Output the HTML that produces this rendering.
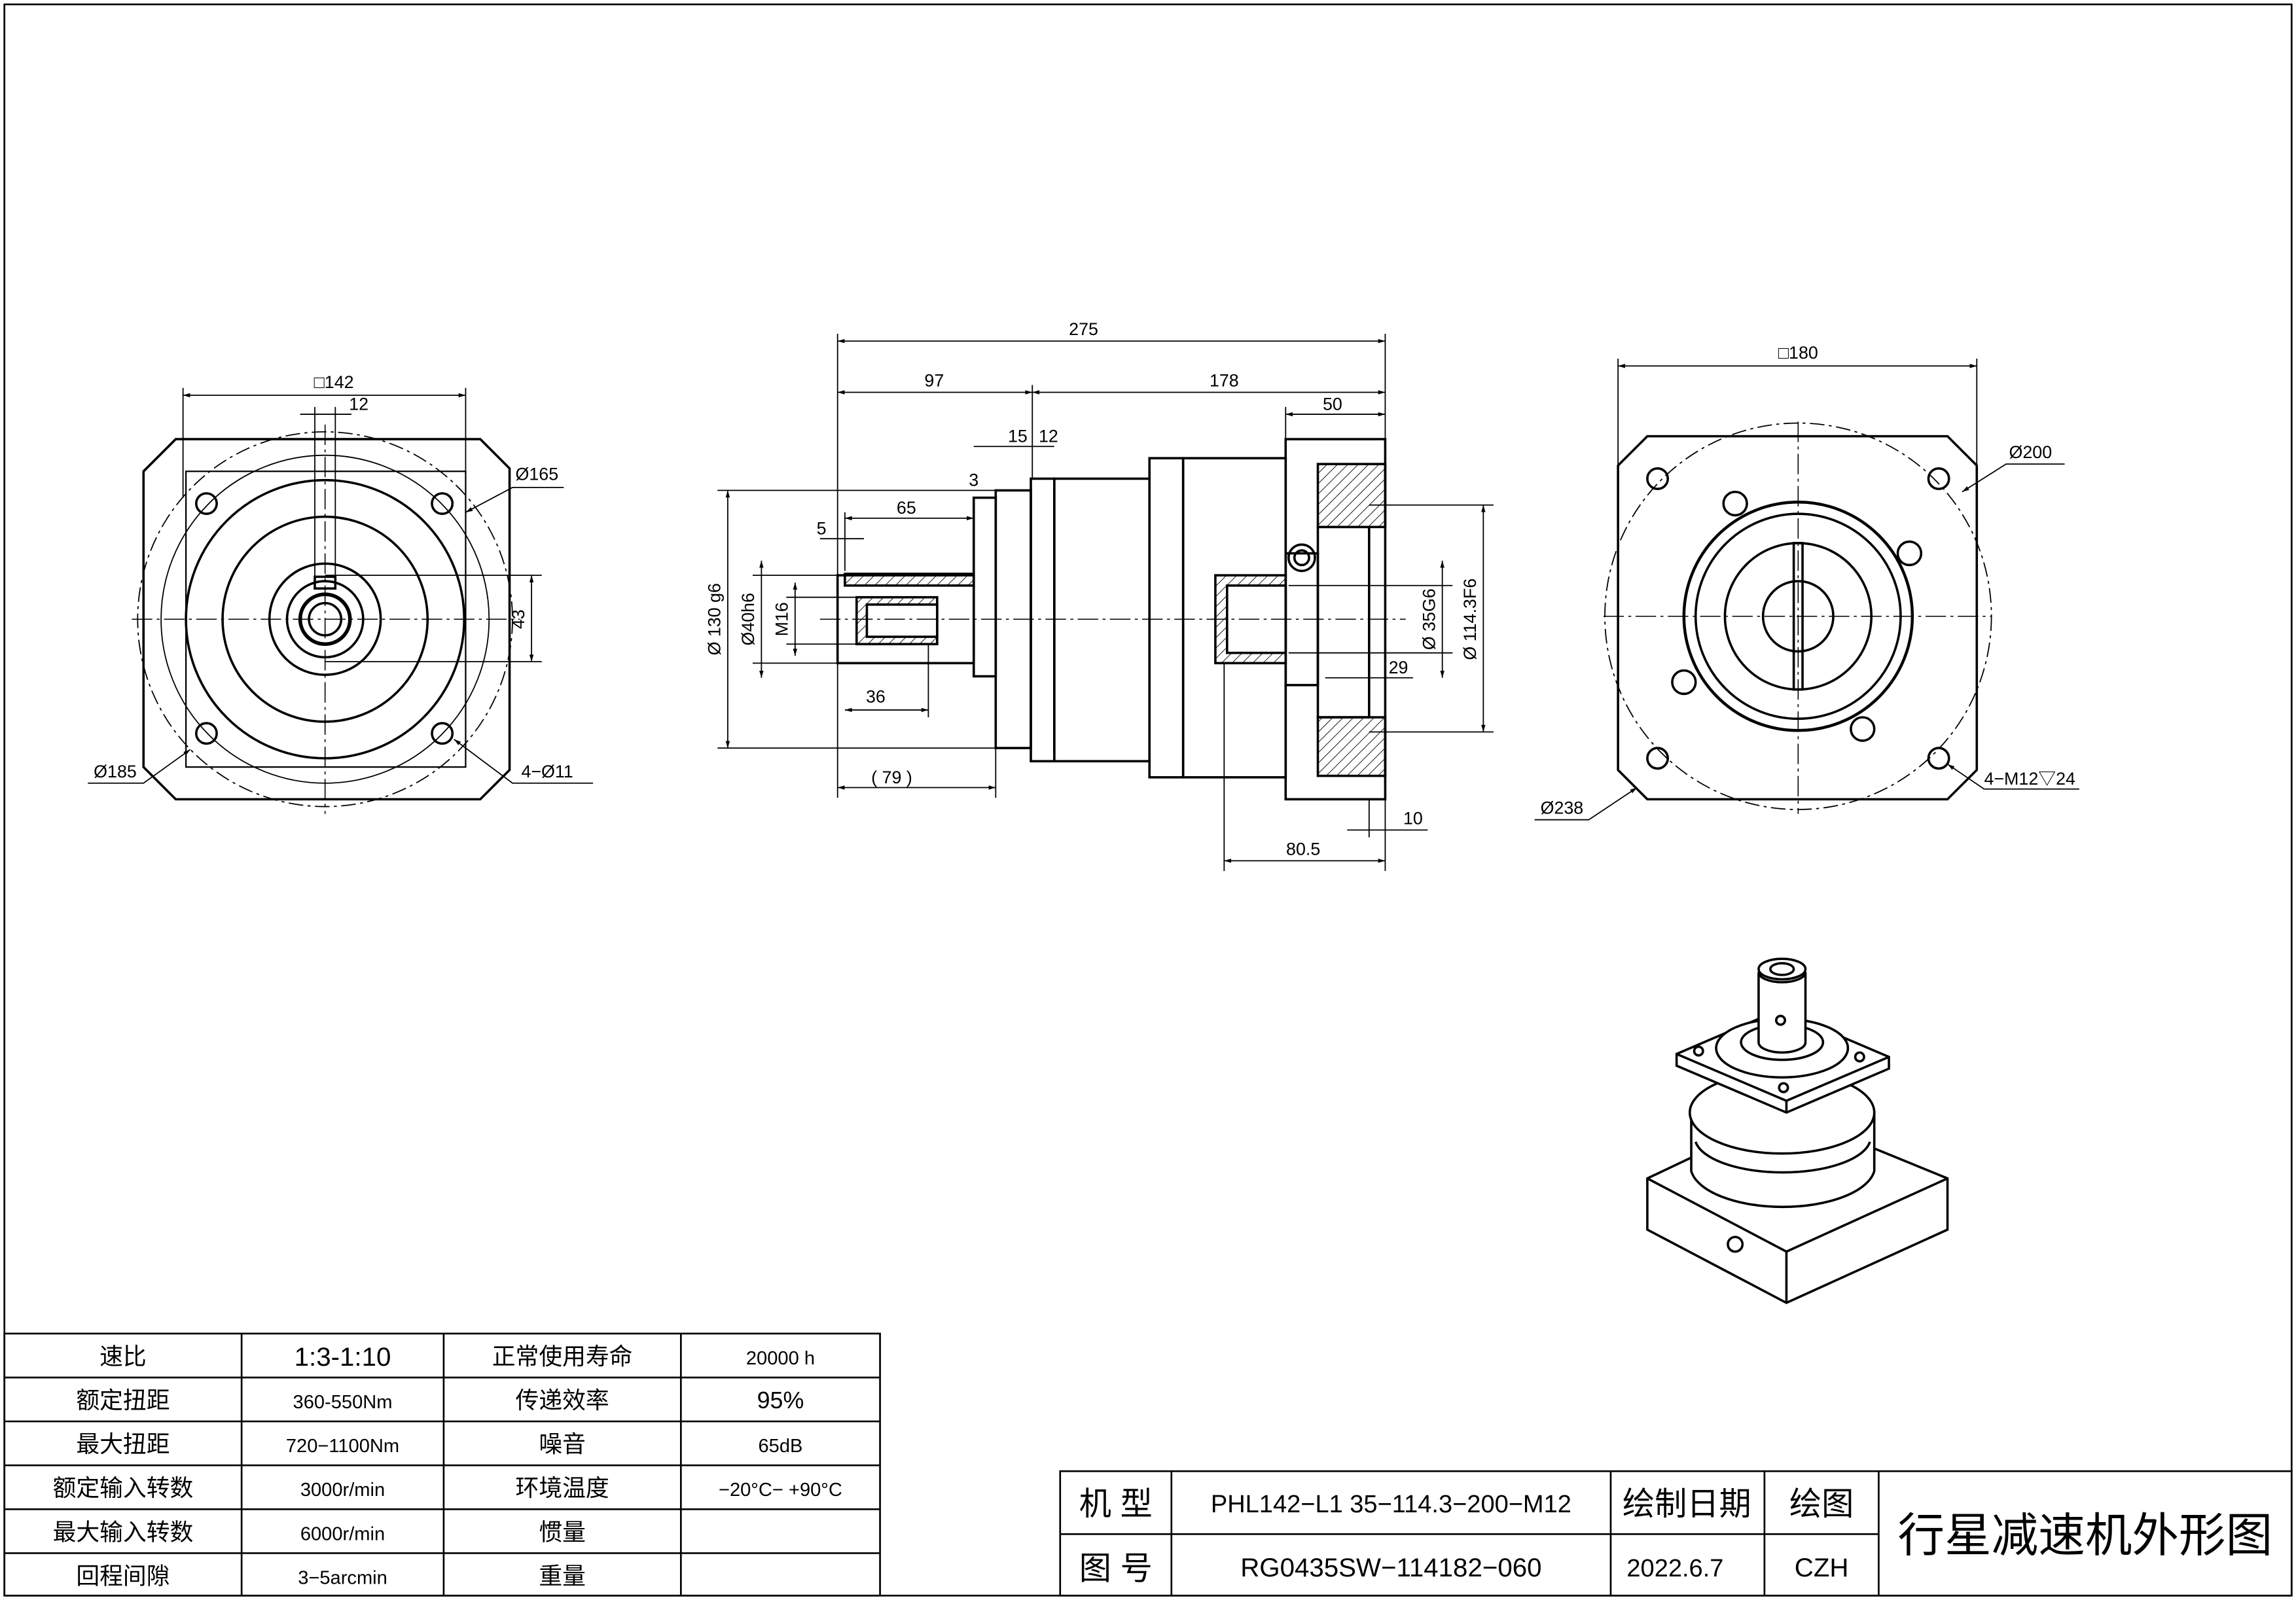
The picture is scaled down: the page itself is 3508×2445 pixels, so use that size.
<!DOCTYPE html>
<html><head><meta charset="utf-8"><style>
html,body{margin:0;padding:0;background:#fff;}
svg{display:block;}
text{font-family:"Liberation Sans","Noto Sans CJK SC",sans-serif;fill:#000;}
.t{font-size:12px;}
.c{font-size:16px;}
</style></head><body>
<svg width="3508" height="2445" viewBox="0 0 1568 1093" preserveAspectRatio="none" xmlns="http://www.w3.org/2000/svg">
<defs>
<pattern id="h" width="5" height="5" patternUnits="userSpaceOnUse" patternTransform="rotate(45)"><line x1="0" y1="0" x2="0" y2="5" stroke="#000" stroke-width="0.8"/></pattern>
<marker id="a" viewBox="0 0 10 10" refX="10" refY="5" markerWidth="8" markerHeight="6" orient="auto-start-reverse"><path d="M0,2 L10,5 L0,8 z" fill="#000"/></marker>
</defs>
<rect x="0" y="0" width="1568" height="1093" fill="#fff"/>
<rect x="3" y="3" width="1562" height="1087" fill="none" stroke="#000" stroke-width="1.2"/>

<g fill="none" stroke="#000" stroke-width="1.6">
<!-- LEFT VIEW -->
<path d="M120,300 L328,300 L348,320 L348,526 L328,546 L120,546 L98,524 L98,322 Z"/>
<path d="M127,322 L318,322 L318,524 L127,524 Z" stroke-width="1"/>
<circle cx="222" cy="423" r="112" stroke-width="0.8"/>
<circle cx="222" cy="423" r="128" stroke-width="0.8" stroke-dasharray="10,3,2,3"/>
<circle cx="222" cy="423" r="95"/>
<circle cx="222" cy="423" r="70"/>
<circle cx="222" cy="423" r="38"/>
<circle cx="222" cy="423" r="26"/>
<circle cx="222" cy="423" r="17" stroke-width="2.5"/>
<circle cx="222" cy="423" r="11"/>
<rect x="215" y="394" width="14" height="8"/>
<circle cx="141" cy="344" r="7"/><circle cx="302" cy="344" r="7"/>
<circle cx="141" cy="501" r="7"/><circle cx="302" cy="501" r="7"/>
<!-- RIGHT VIEW -->
<path d="M1125,298 L1330,298 L1350,318 L1350,526 L1330,546 L1125,546 L1105,526 L1105,318 Z"/>
<circle cx="1228" cy="421" r="132" stroke-width="0.8" stroke-dasharray="10,3,2,3"/>
<circle cx="1228" cy="421" r="78" stroke-width="2"/>
<circle cx="1228" cy="421" r="70"/>
<circle cx="1228" cy="421" r="50"/>
<circle cx="1228" cy="421" r="24"/>
<rect x="1225" y="371" width="6" height="100"/>
<circle cx="1132" cy="327" r="7"/><circle cx="1324" cy="327" r="7"/>
<circle cx="1132" cy="518" r="7"/><circle cx="1324" cy="518" r="7"/>
<circle cx="1185" cy="344" r="8"/><circle cx="1304" cy="378" r="8"/>
<circle cx="1150" cy="466" r="8"/><circle cx="1272" cy="498" r="8"/>
<!-- MIDDLE VIEW -->
<rect x="572" y="393" width="93" height="60"/>
<rect x="577" y="392" width="88" height="8" fill="url(#h)"/>
<rect x="585" y="408" width="55" height="32" fill="url(#h)"/>
<rect x="592" y="413" width="48" height="22" fill="#fff"/>
<rect x="665" y="340" width="15" height="122"/>
<rect x="680" y="335" width="24" height="176"/>
<rect x="704" y="327" width="16" height="193"/>
<rect x="720" y="327" width="65" height="193"/>
<rect x="785" y="313" width="23" height="218"/>
<rect x="808" y="313" width="70" height="218"/>
<rect x="878" y="300" width="68" height="246"/>
<rect x="900" y="317" width="46" height="43" fill="url(#h)"/>
<rect x="900" y="490" width="46" height="40" fill="url(#h)"/>
<rect x="830" y="393" width="48" height="60" fill="url(#h)"/>
<rect x="838" y="400" width="40" height="46" fill="#fff"/>
<rect x="878" y="378" width="22" height="90"/>
<rect x="900" y="360" width="35" height="130"/>
<circle cx="889" cy="381" r="9"/><circle cx="889" cy="381" r="5"/>
<!-- ISO -->
<path d="M1125,805 L1220,760 L1330,805 L1330,840 L1220,890 L1125,840 Z" fill="#fff"/>
<path d="M1125,805 L1220,855 L1330,805 M1220,855 L1220,890"/>
<path d="M1155,760 L1155,800 A63,28 0 0 0 1280,800 L1280,760 Z" fill="#fff"/>
<ellipse cx="1217" cy="760" rx="63" ry="28" fill="#fff"/>
<path d="M1158,780 A60,24 0 0 0 1277,780"/>
<path d="M1145,720 L1145,728 L1220,760 L1290,730 L1290,722 L1215,690 Z" fill="#fff"/>
<path d="M1145,720 L1220,752 L1290,722 M1220,752 L1220,760"/>
<ellipse cx="1217" cy="716" rx="45" ry="20" fill="#fff"/>
<ellipse cx="1217" cy="712" rx="28" ry="12" fill="#fff"/>
<path d="M1201,712 L1201,664 A16,7 0 0 0 1233,664 L1233,712 A16,7 0 0 1 1201,712 Z" fill="#fff"/>
<ellipse cx="1217" cy="662" rx="16" ry="7" fill="#fff"/>
<ellipse cx="1217" cy="662" rx="8" ry="4"/>
<circle cx="1160" cy="718" r="3"/><circle cx="1270" cy="722" r="3"/><circle cx="1218" cy="743" r="3"/><circle cx="1216" cy="697" r="3"/>
<circle cx="1185" cy="850" r="5"/>
</g>

<!-- centerlines -->
<g stroke="#000" stroke-width="0.7" stroke-dasharray="14,3,2,3" fill="none">
<line x1="90" y1="423" x2="355" y2="423"/><line x1="222" y1="290" x2="222" y2="556"/>
<line x1="1095" y1="421" x2="1360" y2="421"/><line x1="1228" y1="288" x2="1228" y2="556"/>
<line x1="560" y1="423" x2="960" y2="423"/>
</g>

<!-- dimensions -->
<g stroke="#000" stroke-width="0.8" fill="none">
<line x1="572" y1="233" x2="946" y2="233" marker-start="url(#a)" marker-end="url(#a)"/>
<line x1="572" y1="268" x2="705" y2="268" marker-start="url(#a)" marker-end="url(#a)"/>
<line x1="705" y1="268" x2="946" y2="268" marker-start="url(#a)" marker-end="url(#a)"/>
<line x1="878" y1="283" x2="946" y2="283" marker-start="url(#a)" marker-end="url(#a)"/>
<line x1="572" y1="228" x2="572" y2="545"/><line x1="946" y1="228" x2="946" y2="595"/>
<line x1="705" y1="263" x2="705" y2="327"/><line x1="878" y1="278" x2="878" y2="300"/>
<line x1="665" y1="305" x2="720" y2="305"/>
<line x1="577" y1="354" x2="665" y2="354" marker-start="url(#a)" marker-end="url(#a)"/>
<line x1="560" y1="368" x2="590" y2="368"/>
<line x1="577" y1="350" x2="577" y2="390"/>
<line x1="577" y1="485" x2="634" y2="485" marker-start="url(#a)" marker-end="url(#a)"/>
<line x1="634" y1="440" x2="634" y2="490"/>
<line x1="572" y1="538" x2="680" y2="538" marker-start="url(#a)" marker-end="url(#a)"/>
<line x1="680" y1="511" x2="680" y2="545"/>
<line x1="836" y1="588" x2="946" y2="588" marker-start="url(#a)" marker-end="url(#a)"/>
<line x1="836" y1="453" x2="836" y2="595"/>
<line x1="920" y1="567" x2="975" y2="567"/><line x1="935" y1="546" x2="935" y2="572"/>
<line x1="497" y1="335" x2="497" y2="511" marker-start="url(#a)" marker-end="url(#a)"/>
<line x1="490" y1="335" x2="680" y2="335"/><line x1="490" y1="511" x2="680" y2="511"/>
<line x1="520" y1="383" x2="520" y2="463" marker-start="url(#a)" marker-end="url(#a)"/>
<line x1="514" y1="393" x2="572" y2="393"/><line x1="514" y1="453" x2="572" y2="453"/>
<line x1="543" y1="398" x2="543" y2="448" marker-start="url(#a)" marker-end="url(#a)"/>
<line x1="537" y1="408" x2="585" y2="408"/><line x1="537" y1="440" x2="585" y2="440"/>
<line x1="985" y1="383" x2="985" y2="463" marker-start="url(#a)" marker-end="url(#a)"/>
<line x1="880" y1="400" x2="992" y2="400"/><line x1="880" y1="446" x2="992" y2="446"/>
<line x1="1013" y1="345" x2="1013" y2="500" marker-start="url(#a)" marker-end="url(#a)"/>
<line x1="935" y1="345" x2="1020" y2="345"/><line x1="935" y1="500" x2="1020" y2="500"/>
<line x1="905" y1="463" x2="965" y2="463"/>
<line x1="363" y1="393" x2="363" y2="452" marker-start="url(#a)" marker-end="url(#a)"/>
<line x1="222" y1="393" x2="370" y2="393"/><line x1="222" y1="452" x2="370" y2="452"/>
<line x1="125" y1="270" x2="318" y2="270" marker-start="url(#a)" marker-end="url(#a)"/>
<line x1="125" y1="265" x2="125" y2="340"/><line x1="318" y1="265" x2="318" y2="340"/>
<line x1="205" y1="283" x2="240" y2="283"/><line x1="215" y1="278" x2="215" y2="400"/><line x1="229" y1="278" x2="229" y2="400"/>
<line x1="1105" y1="250" x2="1350" y2="250" marker-start="url(#a)" marker-end="url(#a)"/>
<line x1="1105" y1="245" x2="1105" y2="320"/><line x1="1350" y1="245" x2="1350" y2="320"/>
<polyline points="385,333 350,333 318,350" marker-end="url(#a)"/>
<polyline points="60,535 98,535 130,512" marker-end="url(#a)"/>
<polyline points="405,535 350,535 310,505" marker-end="url(#a)"/>
<polyline points="1410,317 1370,317 1340,336" marker-end="url(#a)"/>
<polyline points="1048,560 1085,560 1118,538" marker-end="url(#a)"/>
<polyline points="1420,539 1355,539 1330,522" marker-end="url(#a)"/>
</g>
<g class="t">
<text x="740" y="229" text-anchor="middle">275</text>
<text x="638" y="264" text-anchor="middle">97</text>
<text x="836" y="264" text-anchor="middle">178</text>
<text x="910" y="280" text-anchor="middle">50</text>
<text x="695" y="302" text-anchor="middle">15</text>
<text x="716" y="302" text-anchor="middle">12</text>
<text x="665" y="332" text-anchor="middle">3</text>
<text x="619" y="351" text-anchor="middle">65</text>
<text x="561" y="365" text-anchor="middle">5</text>
<text x="598" y="480" text-anchor="middle">36</text>
<text x="609" y="535" text-anchor="middle">( 79 )</text>
<text x="890" y="584" text-anchor="middle">80.5</text>
<text x="965" y="563" text-anchor="middle">10</text>
<text x="955" y="460" text-anchor="middle">29</text>
<text x="492" y="423" text-anchor="middle" transform="rotate(-90 492 423)">Ø 130 g6</text>
<text x="515" y="423" text-anchor="middle" transform="rotate(-90 515 423)">Ø40h6</text>
<text x="538" y="423" text-anchor="middle" transform="rotate(-90 538 423)">M16</text>
<text x="980" y="423" text-anchor="middle" transform="rotate(-90 980 423)">Ø 35G6</text>
<text x="1008" y="423" text-anchor="middle" transform="rotate(-90 1008 423)">Ø 114.3F6</text>
<text x="358" y="423" text-anchor="middle" transform="rotate(-90 358 423)">43</text>
<text x="228" y="265" text-anchor="middle">□142</text>
<text x="245" y="280" text-anchor="middle">12</text>
<text x="352" y="328">Ø165</text>
<text x="64" y="531">Ø185</text>
<text x="356" y="531">4−Ø11</text>
<text x="1228" y="245" text-anchor="middle">□180</text>
<text x="1372" y="313">Ø200</text>
<text x="1052" y="556">Ø238</text>
<text x="1355" y="536">4−M12▽24</text>
</g>

<!-- spec table -->
<g stroke="#000" stroke-width="1.2" fill="none">
<rect x="3" y="911" width="598" height="179"/>
<line x1="3" y1="941" x2="601" y2="941"/><line x1="3" y1="971" x2="601" y2="971"/>
<line x1="3" y1="1001" x2="601" y2="1001"/><line x1="3" y1="1031" x2="601" y2="1031"/>
<line x1="3" y1="1061" x2="601" y2="1061"/>
<line x1="165" y1="911" x2="165" y2="1090"/><line x1="303" y1="911" x2="303" y2="1090"/><line x1="465" y1="911" x2="465" y2="1090"/>
</g>
<g class="c" text-anchor="middle">
<text x="84" y="932">速比</text><text x="234" y="933" font-size="18">1:3-1:10</text><text x="384" y="932">正常使用寿命</text><text x="533" y="932" font-size="13">20000 h</text>
<text x="84" y="962">额定扭距</text><text x="234" y="962" font-size="13">360-550Nm</text><text x="384" y="962">传递效率</text><text x="533" y="962">95%</text>
<text x="84" y="992">最大扭距</text><text x="234" y="992" font-size="13">720−1100Nm</text><text x="384" y="992">噪音</text><text x="533" y="992" font-size="13">65dB</text>
<text x="84" y="1022">额定输入转数</text><text x="234" y="1022" font-size="13">3000r/min</text><text x="384" y="1022">环境温度</text><text x="533" y="1022" font-size="13">−20°C− +90°C</text>
<text x="84" y="1052">最大输入转数</text><text x="234" y="1052" font-size="13">6000r/min</text><text x="384" y="1052">惯量</text>
<text x="84" y="1082">回程间隙</text><text x="234" y="1082" font-size="13">3−5arcmin</text><text x="384" y="1082">重量</text>
</g>

<!-- title block -->
<g stroke="#000" stroke-width="1.2" fill="none">
<rect x="724" y="1005" width="841" height="85"/>
<line x1="724" y1="1048" x2="1283" y2="1048"/>
<line x1="800" y1="1005" x2="800" y2="1090"/><line x1="1100" y1="1005" x2="1100" y2="1090"/>
<line x1="1205" y1="1005" x2="1205" y2="1090"/><line x1="1283" y1="1005" x2="1283" y2="1090"/>
</g>
<g text-anchor="middle">
<text x="762" y="1035" font-size="22">机 型</text>
<text x="950" y="1033" font-size="17">PHL142−L1 35−114.3−200−M12</text>
<text x="1152" y="1035" font-size="22">绘制日期</text>
<text x="1244" y="1035" font-size="22">绘图</text>
<text x="762" y="1079" font-size="22">图 号</text>
<text x="950" y="1077" font-size="18">RG0435SW−114182−060</text>
<text x="1144" y="1077" font-size="17">2022.6.7</text>
<text x="1244" y="1077" font-size="18">CZH</text>
<text x="1424" y="1060" font-size="32">行星减速机外形图</text>
</g>
</svg>
</body></html>
